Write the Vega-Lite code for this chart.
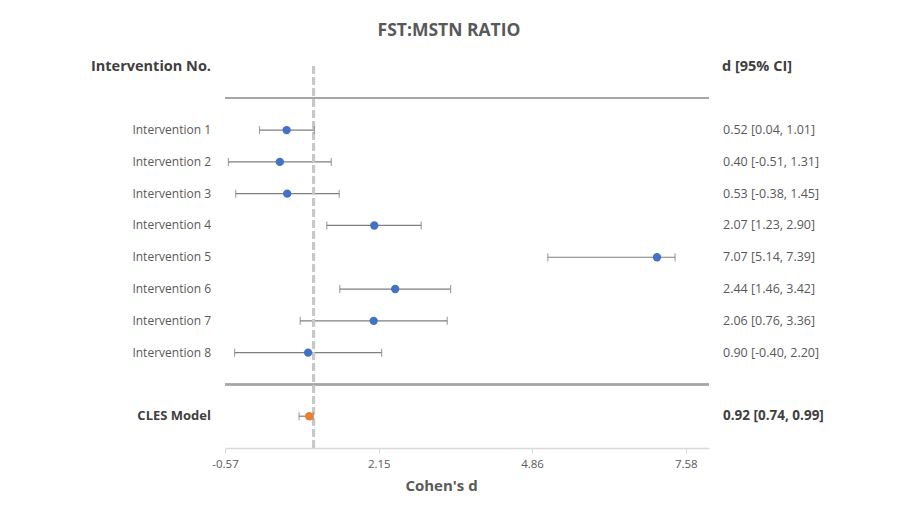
{
  "$schema": "https://vega.github.io/schema/vega-lite/v6.json",
  "width": 484,
  "height": 381.5,
  "autosize": {"type": "none"},
  "padding": {"left": 225, "top": 66.5, "right": 188, "bottom": 77},
  "background": "white",
  "title": {"text": "FST:MSTN RATIO", "font": "Open Sans", "fontSize": 17.5, "fontWeight": "bold", "color": "#595959", "anchor": "middle", "frame": "group", "dx": -18, "offset": 19},
  "config": {
    "view": {"stroke": null},
    "font": "Open Sans",
    "axisX": {"grid": false, "labelFlush": false, "labelOverlap": false,
      "domainColor": "#d9d9d9", "domainWidth": 1.5, "tickColor": "#d9d9d9", "tickSize": 5, "tickWidth": 1,
      "labelColor": "#595959", "labelFontSize": 11.5, "labelPadding": 5, "labelFont": "Open Sans",
      "titleColor": "#595959", "titleFontSize": 15, "titleFontWeight": "bold", "titleFont": "Open Sans", "titlePadding": 9, "titleX": 216}
  },
  "datasets": {
    "rows": [
      {"label": "Intervention 1", "d": 0.52, "lo": 0.04, "hi": 1.01, "order": 1, "ci": "0.52 [0.04, 1.01]", "group": "Intervention"},
      {"label": "Intervention 2", "d": 0.40, "lo": -0.51, "hi": 1.31, "order": 2, "ci": "0.40 [-0.51, 1.31]", "group": "Intervention"},
      {"label": "Intervention 3", "d": 0.53, "lo": -0.38, "hi": 1.45, "order": 3, "ci": "0.53 [-0.38, 1.45]", "group": "Intervention"},
      {"label": "Intervention 4", "d": 2.07, "lo": 1.23, "hi": 2.90, "order": 4, "ci": "2.07 [1.23, 2.90]", "group": "Intervention"},
      {"label": "Intervention 5", "d": 7.07, "lo": 5.14, "hi": 7.39, "order": 5, "ci": "7.07 [5.14, 7.39]", "group": "Intervention"},
      {"label": "Intervention 6", "d": 2.44, "lo": 1.46, "hi": 3.42, "order": 6, "ci": "2.44 [1.46, 3.42]", "group": "Intervention"},
      {"label": "Intervention 7", "d": 2.06, "lo": 0.76, "hi": 3.36, "order": 7, "ci": "2.06 [0.76, 3.36]", "group": "Intervention"},
      {"label": "Intervention 8", "d": 0.90, "lo": -0.40, "hi": 2.20, "order": 8, "ci": "0.90 [-0.40, 2.20]", "group": "Intervention"},
      {"label": "CLES Model", "d": 0.92, "lo": 0.74, "hi": 0.99, "order": 10, "ci": "0.92 [0.74, 0.99]", "group": "Model"}
    ]
  },
  "data": {"name": "rows"},
  "layer": [
    {
      "mark": {"type": "rule", "color": "#7f7f7f", "strokeWidth": 1.2},
      "encoding": {
        "x": {"field": "lo", "type": "quantitative", "title": "Cohen's d", "axis": {"values": [-0.57, 2.15, 4.86, 7.58], "labelExpr": "datum.value < 0 ? '-' + format(-datum.value, '.2f') : format(datum.value, '.2f')"}, "scale": {"domain": [-0.57, 7.99], "nice": false, "zero": false}},
        "x2": {"field": "hi"},
        "y": {"field": "order", "type": "quantitative", "scale": {"domain": [-1, 11], "reverse": true, "nice": false, "zero": false}, "axis": null}
      }
    },
    {
      "mark": {"type": "rule", "color": "#a6a6a6", "strokeWidth": 1.5},
      "encoding": {"y": {"datum": 0, "type": "quantitative", "scale": {"domain": [-1, 11], "reverse": true, "nice": false, "zero": false}, "axis": null}}
    },
    {
      "mark": {"type": "rule", "color": "#a6a6a6", "strokeWidth": 1.5},
      "encoding": {"y": {"datum": 9, "type": "quantitative", "scale": {"domain": [-1, 11], "reverse": true, "nice": false, "zero": false}, "axis": null}}
    },
    {
      "mark": {"type": "rule", "color": "#c8c8c8", "strokeWidth": 2.5, "strokeDash": [7, 4]},
      "encoding": {"x": {"datum": 1, "type": "quantitative", "title": "Cohen's d", "axis": {"values": [-0.57, 2.15, 4.86, 7.58], "labelExpr": "datum.value < 0 ? '-' + format(-datum.value, '.2f') : format(datum.value, '.2f')"}, "scale": {"domain": [-0.57, 7.99], "nice": false, "zero": false}}}
    },
    {
      "mark": {"type": "tick", "orient": "vertical", "color": "#7f7f7f", "size": 8, "thickness": 1.2},
      "encoding": {
        "x": {"field": "lo", "type": "quantitative", "title": "Cohen's d", "axis": {"values": [-0.57, 2.15, 4.86, 7.58], "labelExpr": "datum.value < 0 ? '-' + format(-datum.value, '.2f') : format(datum.value, '.2f')"}, "scale": {"domain": [-0.57, 7.99], "nice": false, "zero": false}},
        "y": {"field": "order", "type": "quantitative", "scale": {"domain": [-1, 11], "reverse": true, "nice": false, "zero": false}, "axis": null}
      }
    },
    {
      "mark": {"type": "tick", "orient": "vertical", "color": "#7f7f7f", "size": 8, "thickness": 1.2},
      "encoding": {
        "x": {"field": "hi", "type": "quantitative", "title": "Cohen's d", "axis": {"values": [-0.57, 2.15, 4.86, 7.58], "labelExpr": "datum.value < 0 ? '-' + format(-datum.value, '.2f') : format(datum.value, '.2f')"}, "scale": {"domain": [-0.57, 7.99], "nice": false, "zero": false}},
        "y": {"field": "order", "type": "quantitative", "scale": {"domain": [-1, 11], "reverse": true, "nice": false, "zero": false}, "axis": null}
      }
    },
    {
      "mark": {"type": "circle", "size": 70, "opacity": 1},
      "encoding": {
        "x": {"field": "d", "type": "quantitative", "title": "Cohen's d", "axis": {"values": [-0.57, 2.15, 4.86, 7.58], "labelExpr": "datum.value < 0 ? '-' + format(-datum.value, '.2f') : format(datum.value, '.2f')"}, "scale": {"domain": [-0.57, 7.99], "nice": false, "zero": false}},
        "y": {"field": "order", "type": "quantitative", "scale": {"domain": [-1, 11], "reverse": true, "nice": false, "zero": false}, "axis": null},
        "color": {"field": "group", "type": "nominal", "scale": {"domain": ["Intervention", "Model"], "range": ["#4472c4", "#ed7d31"]}, "legend": null}
      }
    },
    {
      "transform": [{"filter": "datum.group === 'Intervention'"}],
      "mark": {"type": "text", "align": "right", "baseline": "middle", "dx": -14, "fontSize": 12, "color": "#595959", "font": "Open Sans"},
      "encoding": {
        "x": {"datum": -0.57, "type": "quantitative", "title": "Cohen's d", "axis": {"values": [-0.57, 2.15, 4.86, 7.58], "labelExpr": "datum.value < 0 ? '-' + format(-datum.value, '.2f') : format(datum.value, '.2f')"}, "scale": {"domain": [-0.57, 7.99], "nice": false, "zero": false}},
        "y": {"field": "order", "type": "quantitative", "scale": {"domain": [-1, 11], "reverse": true, "nice": false, "zero": false}, "axis": null},
        "text": {"field": "label"}
      }
    },
    {
      "transform": [{"filter": "datum.group === 'Model'"}],
      "mark": {"type": "text", "align": "right", "baseline": "middle", "dx": -14, "fontSize": 13, "fontWeight": "bold", "color": "#404040", "font": "Open Sans"},
      "encoding": {
        "x": {"datum": -0.57, "type": "quantitative", "title": "Cohen's d", "axis": {"values": [-0.57, 2.15, 4.86, 7.58], "labelExpr": "datum.value < 0 ? '-' + format(-datum.value, '.2f') : format(datum.value, '.2f')"}, "scale": {"domain": [-0.57, 7.99], "nice": false, "zero": false}},
        "y": {"field": "order", "type": "quantitative", "scale": {"domain": [-1, 11], "reverse": true, "nice": false, "zero": false}, "axis": null},
        "text": {"field": "label"}
      }
    },
    {
      "transform": [{"filter": "datum.group === 'Intervention'"}],
      "mark": {"type": "text", "align": "left", "baseline": "middle", "dx": 14, "fontSize": 12.5, "color": "#595959", "font": "Open Sans"},
      "encoding": {
        "x": {"datum": 7.99, "type": "quantitative", "title": "Cohen's d", "axis": {"values": [-0.57, 2.15, 4.86, 7.58], "labelExpr": "datum.value < 0 ? '-' + format(-datum.value, '.2f') : format(datum.value, '.2f')"}, "scale": {"domain": [-0.57, 7.99], "nice": false, "zero": false}},
        "y": {"field": "order", "type": "quantitative", "scale": {"domain": [-1, 11], "reverse": true, "nice": false, "zero": false}, "axis": null},
        "text": {"field": "ci"}
      }
    },
    {
      "transform": [{"filter": "datum.group === 'Model'"}],
      "mark": {"type": "text", "align": "left", "baseline": "middle", "dx": 14, "fontSize": 13.5, "fontWeight": "bold", "color": "#404040", "font": "Open Sans"},
      "encoding": {
        "x": {"datum": 7.99, "type": "quantitative", "title": "Cohen's d", "axis": {"values": [-0.57, 2.15, 4.86, 7.58], "labelExpr": "datum.value < 0 ? '-' + format(-datum.value, '.2f') : format(datum.value, '.2f')"}, "scale": {"domain": [-0.57, 7.99], "nice": false, "zero": false}},
        "y": {"field": "order", "type": "quantitative", "scale": {"domain": [-1, 11], "reverse": true, "nice": false, "zero": false}, "axis": null},
        "text": {"field": "ci"}
      }
    },
    {
      "data": {"values": [{"header": "Intervention No."}]},
      "mark": {"type": "text", "align": "right", "baseline": "middle", "dx": -14, "fontSize": 14.5, "fontWeight": "bold", "color": "#404040", "font": "Open Sans"},
      "encoding": {
        "x": {"datum": -0.57, "type": "quantitative", "title": "Cohen's d", "axis": {"values": [-0.57, 2.15, 4.86, 7.58], "labelExpr": "datum.value < 0 ? '-' + format(-datum.value, '.2f') : format(datum.value, '.2f')"}, "scale": {"domain": [-0.57, 7.99], "nice": false, "zero": false}},
        "y": {"datum": -1, "type": "quantitative", "scale": {"domain": [-1, 11], "reverse": true, "nice": false, "zero": false}, "axis": null},
        "text": {"field": "header"}
      }
    },
    {
      "data": {"values": [{"header": "d [95% CI]"}]},
      "mark": {"type": "text", "align": "left", "baseline": "middle", "dx": 13, "fontSize": 14.5, "fontWeight": "bold", "color": "#404040", "font": "Open Sans"},
      "encoding": {
        "x": {"datum": 7.99, "type": "quantitative", "title": "Cohen's d", "axis": {"values": [-0.57, 2.15, 4.86, 7.58], "labelExpr": "datum.value < 0 ? '-' + format(-datum.value, '.2f') : format(datum.value, '.2f')"}, "scale": {"domain": [-0.57, 7.99], "nice": false, "zero": false}},
        "y": {"datum": -1, "type": "quantitative", "scale": {"domain": [-1, 11], "reverse": true, "nice": false, "zero": false}, "axis": null},
        "text": {"field": "header"}
      }
    }
  ]
}
